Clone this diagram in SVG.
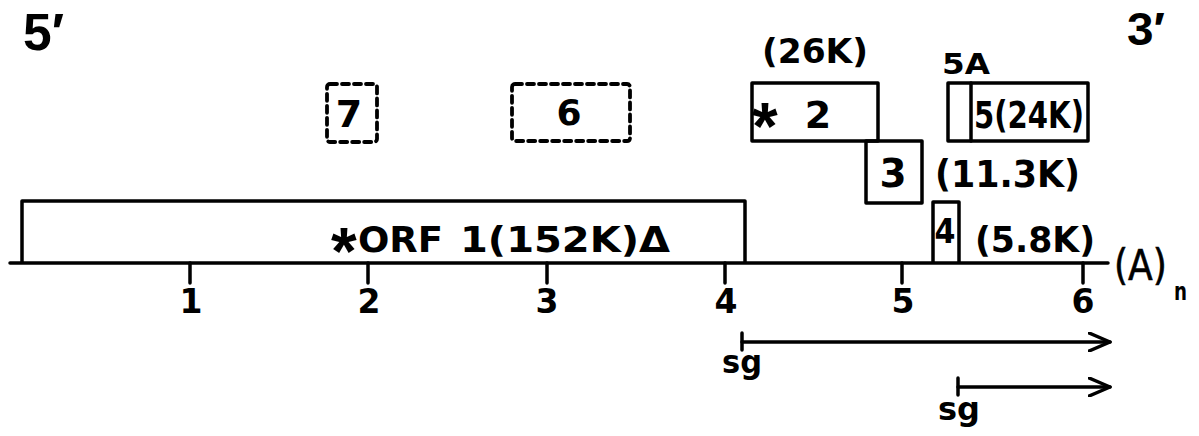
<svg xmlns="http://www.w3.org/2000/svg" width="1199" height="436" viewBox="0 0 1199 436">
  <style>
    .box { fill: none; stroke: #000; stroke-width: 3.5; stroke-linejoin: round; }
    .dash { fill: none; stroke: #000; stroke-width: 3.8; stroke-dasharray: 7 5; stroke-linecap: round; }
    .line { fill: none; stroke: #000; stroke-width: 3.5; stroke-linecap: round; stroke-linejoin: round; }
    text { font-family: "DejaVu Sans", "Liberation Sans", sans-serif; font-weight: bold; fill: #000; }
    .end, .star { font-family: "Liberation Sans", "Arial", sans-serif; }
    .star { font-size: 66px; }
    .polyA { font-weight: normal; stroke: #000; stroke-width: 0.6; }
  </style>
  <defs>
    <marker id="openHead" viewBox="0 0 24 20" refX="22" refY="10" markerWidth="24" markerHeight="20" markerUnits="userSpaceOnUse" orient="auto">
      <path d="M1,1 L22,10 L1,19" fill="none" stroke="#000" stroke-width="3.5" stroke-linecap="round" stroke-linejoin="round"/>
    </marker>
  </defs>

  <!-- strand ends -->
  <text class="end" x="23" y="50" font-size="52" textLength="41" lengthAdjust="spacingAndGlyphs">5′</text>
  <text class="end" x="1127" y="45" font-size="46" textLength="38" lengthAdjust="spacingAndGlyphs">3′</text>

  <!-- genome axis with kb scale -->
  <g id="axis">
    <line class="line" x1="10" y1="263" x2="1108" y2="263" stroke-width="4"/>
    <path class="line" d="M190,263 V283 M368,263 V283 M547,263 V283 M725,263 V283 M902,263 V283 M1083,263 V283"/>
    <g font-size="33" text-anchor="middle">
      <text x="191" y="313">1</text>
      <text x="369" y="313">2</text>
      <text x="547" y="313">3</text>
      <text x="726" y="313">4</text>
      <text x="903" y="313">5</text>
      <text x="1083" y="313">6</text>
    </g>
    <text class="polyA" x="1114" y="280" font-size="42" textLength="53" lengthAdjust="spacingAndGlyphs">(A)</text>
    <text x="1174" y="300" font-size="25" textLength="13" lengthAdjust="spacingAndGlyphs">n</text>
  </g>

  <!-- ORF 1 -->
  <g id="orf1">
    <path class="box" d="M22,263 V201 H745 V263"/>
    <text class="star" x="331" y="274">*</text>
    <text x="358" y="252" font-size="36" textLength="85" lengthAdjust="spacingAndGlyphs">ORF</text>
    <text x="460" y="252" font-size="36" textLength="210" lengthAdjust="spacingAndGlyphs">1(152K)Δ</text>
  </g>

  <!-- ORF 7 (dashed) -->
  <g id="orf7">
    <rect class="dash" x="327" y="84" width="50" height="58" rx="3"/>
    <text x="349" y="127" font-size="38" text-anchor="middle">7</text>
  </g>

  <!-- ORF 6 (dashed) -->
  <g id="orf6">
    <rect class="dash" x="512" y="84" width="118" height="57" rx="3"/>
    <text x="569" y="125" font-size="36" text-anchor="middle">6</text>
  </g>

  <!-- ORF 2 -->
  <g id="orf2">
    <rect class="box" x="752" y="83" width="126" height="58"/>
    <text x="762" y="63" font-size="33" textLength="106" lengthAdjust="spacingAndGlyphs">(26K)</text>
    <text class="star" x="752" y="149">*</text>
    <text x="818" y="128" font-size="38" text-anchor="middle">2</text>
  </g>

  <!-- ORF 3 -->
  <g id="orf3">
    <rect class="box" x="866" y="141" width="56" height="62"/>
    <text x="893" y="187" font-size="39" text-anchor="middle">3</text>
    <text x="935" y="187" font-size="37" textLength="145" lengthAdjust="spacingAndGlyphs">(11.3K)</text>
  </g>

  <!-- ORF 4 -->
  <g id="orf4">
    <path class="box" d="M933,263 V202 H959 V263"/>
    <text x="945" y="243" font-size="34" text-anchor="middle" textLength="21" lengthAdjust="spacingAndGlyphs">4</text>
    <text x="975" y="252" font-size="36" textLength="120" lengthAdjust="spacingAndGlyphs">(5.8K)</text>
  </g>

  <!-- ORF 5 / 5A -->
  <g id="orf5">
    <rect class="box" x="948" y="83" width="140" height="58"/>
    <line class="line" x1="971" y1="83" x2="971" y2="141"/>
    <text x="942" y="74" font-size="29" textLength="48" lengthAdjust="spacingAndGlyphs">5A</text>
    <text x="974" y="128" font-size="37" textLength="110" lengthAdjust="spacingAndGlyphs">5(24K)</text>
  </g>

  <!-- subgenomic RNA starts -->
  <g id="connectors">
    <path class="line" d="M742,333 V350"/>
    <line class="line" x1="742" y1="342" x2="1110" y2="342" marker-end="url(#openHead)"/>
    <path class="line" d="M958,378 V395"/>
    <line class="line" x1="958" y1="387" x2="1110" y2="387" marker-end="url(#openHead)"/>
  </g>
  <g id="sg-labels" font-size="32">
    <text x="722" y="373" textLength="40" lengthAdjust="spacingAndGlyphs">sg</text>
    <text x="938" y="420" textLength="42" lengthAdjust="spacingAndGlyphs">sg</text>
  </g>
</svg>
